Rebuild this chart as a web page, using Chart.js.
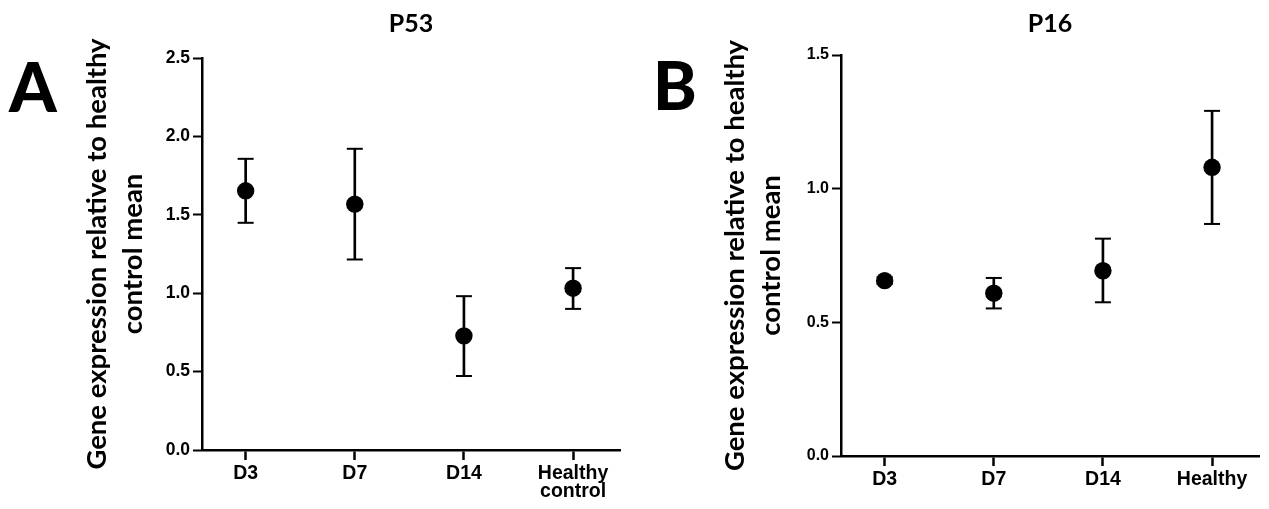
<!DOCTYPE html>
<html>
<head>
<meta charset="utf-8">
<script src="https://cdn.jsdelivr.net/npm/chart.js@4.4.1/dist/chart.umd.min.js"></script>
<style>
  html, body { margin: 0; padding: 0; background: #fff; width: 1269px; height: 509px; overflow: hidden; }
  canvas { position: absolute; top: 0; }
  .letter { position: absolute; font-family: Lato, 'Open Sans', sans-serif; font-weight: 900; font-size: 68px; line-height: 1; color: #000; }
</style>
</head>
<body>
<div class="letter" style="left:9px; top:52px;">A</div>
<div class="letter" style="left:653px; top:52px; font-size:66px;">B</div>
<canvas id="cA" width="635" height="509" style="left:0px;"></canvas>
<canvas id="cB" width="629" height="509" style="left:640px;"></canvas>
<script>
// ---- Panel A: P53 ----
const titleA = 'P53';
const categoriesA = ['D3', 'D7', 'D14', 'Healthy control'];
const meanA  = [1.653, 1.568, 0.728, 1.032];
const lowerA = [1.449, 1.215, 0.472, 0.900];
const upperA = [1.857, 1.921, 0.981, 1.160];
const yTicksA = [0.0, 0.5, 1.0, 1.5, 2.0, 2.5];

// ---- Panel B: P16 ----
const titleB = 'P16';
const categoriesB = ['D3', 'D7', 'D14', 'Healthy'];
const meanB  = [0.656, 0.609, 0.693, 1.080];
const lowerB = [0.643, 0.552, 0.575, 0.868];
const upperB = [0.669, 0.666, 0.813, 1.291];
const yTicksB = [0.0, 0.5, 1.0, 1.5];

const yAxisTitle = ['Gene expression relative to healthy', 'control mean'];

function makeChart(id, p) {
  const idx = p.categories.map((_, i) => i);
  return new Chart(document.getElementById(id), {
    type: 'scatter',
    data: {
      datasets: [
        {
          type: 'scatter', label: 'mean',
          data: idx.map(i => ({ x: i, y: p.mean[i] })),
          pointRadius: 8.7, pointBackgroundColor: '#000', pointBorderWidth: 0,
          order: 0
        },
        {
          type: 'bar', label: 'error',
          data: idx.map(i => ({ x: i, y: [p.lower[i], p.upper[i]] })),
          backgroundColor: '#000', borderWidth: 0, barThickness: 2,
          order: 1
        },
        {
          type: 'scatter', label: 'caps',
          data: idx.map(i => ({ x: i, y: p.lower[i] })).concat(idx.map(i => ({ x: i, y: p.upper[i] }))),
          pointStyle: 'line', pointRadius: 8, pointBorderColor: '#000', pointBorderWidth: 2,
          order: 2
        }
      ]
    },
    options: {
      responsive: false,
      animation: false,
      events: [],
      layout: { padding: { left: 0, right: p.padRight, top: 0, bottom: 0 } },
      plugins: {
        legend: { display: false },
        tooltip: { enabled: false },
        title: {
          display: true, text: p.title, fullSize: false, color: '#000',
          font: { family: 'Lato', weight: 'bold', size: 25 },
          padding: { top: 9, bottom: p.titleBottom }
        }
      },
      scales: {
        x: {
          type: 'linear', min: -0.4, max: 3.43, offset: false,
          afterBuildTicks: s => { s.ticks = idx.map(v => ({ value: v })); },
          afterFit: s => { s.height = p.xHeight; },
          ticks: {
            autoSkip: false, maxRotation: 0, color: '#000', padding: 5,
            font: { family: 'Liberation Sans', weight: 'bold', size: 19.5, lineHeight: '18px' },
            callback: v => { const c = p.categories[v]; return c.indexOf(' ') >= 0 ? c.split(' ') : c; }
          },
          grid: { display: true, offset: false, drawOnChartArea: false, drawTicks: true, tickLength: 10, tickWidth: 2.5, tickColor: '#000', color: '#000' },
          border: { display: true, color: '#000', width: 2.5 }
        },
        y: {
          min: p.yTicks[0], max: p.yTicks[p.yTicks.length - 1],
          afterBuildTicks: s => { s.ticks = p.yTicks.map(v => ({ value: v })); },
          afterFit: s => { s.width = p.yWidth; },
          ticks: {
            color: '#000', padding: 3,
            font: { family: 'Liberation Sans', weight: 'bold', size: p.yTickSize },
            callback: v => Number(v).toFixed(1)
          },
          grid: { drawOnChartArea: false, drawTicks: true, tickLength: 9, tickWidth: 2, tickColor: '#000' },
          border: { display: true, color: '#000', width: 2.5 },
          title: {
            display: true, text: yAxisTitle, color: '#000',
            font: { family: 'Lato', weight: 'bold', size: 27.5, lineHeight: '36px' },
            padding: { top: p.yTitlePad, bottom: 0 }
          }
        }
      }
    }
  });
}

makeChart('cA', {
  title: titleA, categories: categoriesA, mean: meanA, lower: lowerA, upper: upperA, yTicks: yTicksA,
  padRight: 15, titleBottom: 19, xHeight: 59, yWidth: 202, yTitlePad: 79, yTickSize: 17.5
});
makeChart('cB', {
  title: titleB, categories: categoriesB, mean: meanB, lower: lowerB, upper: upperB, yTicks: yTicksB,
  padRight: 1, titleBottom: 16, xHeight: 53, yWidth: 201, yTitlePad: 77, yTickSize: 16
});
</script>
</body>
</html>
